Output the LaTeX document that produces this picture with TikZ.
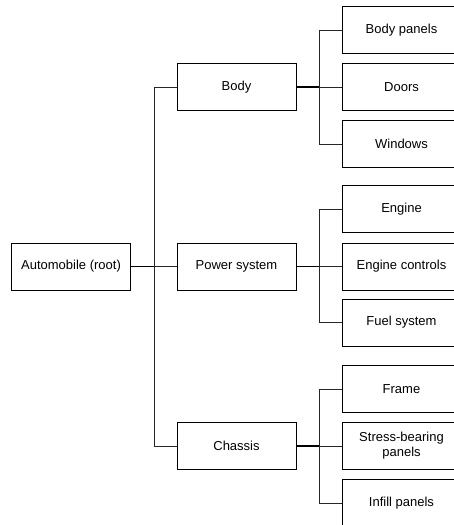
\documentclass[tikz,border=0pt]{standalone}
\usepackage{fontspec}
\setmainfont{Liberation Sans}
\begin{document}
\begin{tikzpicture}[x=1pt,y=-1pt,
  box/.style={draw=black,line width=0.9pt,fill=white,minimum width=119pt,minimum height=47pt,
    inner sep=0pt,align=center,font=\fontsize{13}{15}\selectfont},
  stub/.style={draw=black,line width=1.6pt},
  branch/.style={draw=black!85,line width=0.9pt}]
\useasboundingbox (0,0) rectangle (454,525);
\clip (0,0) rectangle (454,525);

% root and first level
\node[box] (root) at (71,266.5) {Automobile (root)};
\node[box] (body) at (236.5,87) {Body};
\node[box] (power) at (236.5,266.5) {Power system};
\node[box] (chassis) at (236.5,446) {Chassis};

% leaves
\node[box] (bp) at (401.5,30) {Body panels};
\node[box] (doors) at (401.5,87) {Doors};
\node[box] (win) at (401.5,144) {Windows};
\node[box] (eng) at (401.5,209) {Engine};
\node[box] (ec) at (401.5,266.5) {Engine controls};
\node[box] (fuel) at (401.5,322.5) {Fuel system};
\node[box] (frame) at (401.5,389) {Frame};
\node[box] (sbp) at (401.5,446) {Stress-bearing\\panels};
\node[box] (inf) at (401.5,503) {Infill panels};

% junction points
\coordinate (j0) at (154,266.5);
\coordinate (j1) at (319,87);
\coordinate (j2) at (319,266.5);
\coordinate (j3) at (319,446);

% connectors
\draw[stub] (root.east) -- (j0);
\draw[branch] (j0) |- (body.west);
\draw[branch] (j0) |- (power.west);
\draw[branch] (j0) |- (chassis.west);

\draw[stub] (body.east) -- (j1);
\draw[branch] (j1) |- (bp.west);
\draw[branch] (j1) |- (doors.west);
\draw[branch] (j1) |- (win.west);

\draw[stub] (power.east) -- (j2);
\draw[branch] (j2) |- (eng.west);
\draw[branch] (j2) |- (ec.west);
\draw[branch] (j2) |- (fuel.west);

\draw[stub] (chassis.east) -- (j3);
\draw[branch] (j3) |- (frame.west);
\draw[branch] (j3) |- (sbp.west);
\draw[branch] (j3) |- (inf.west);
\end{tikzpicture}
\end{document}
